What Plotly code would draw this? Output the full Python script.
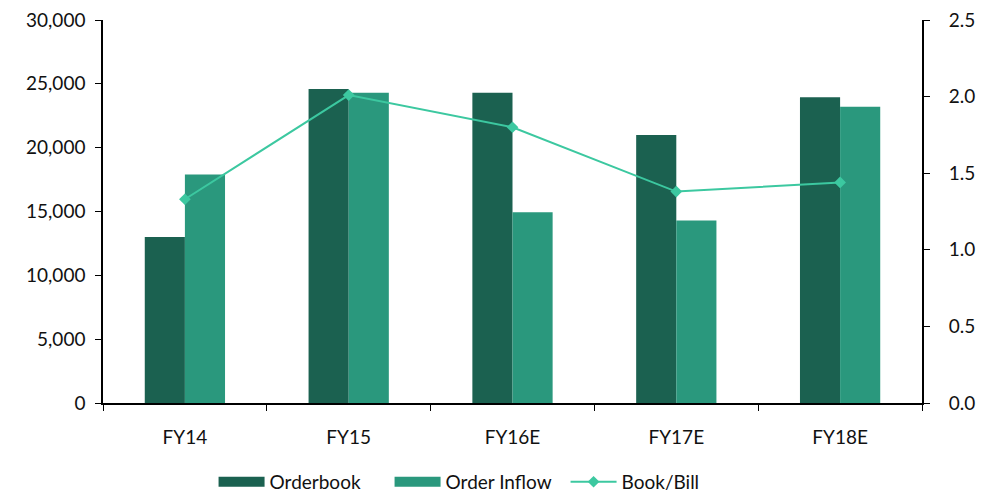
import plotly.graph_objects as go

categories = ["FY14", "FY15", "FY16E", "FY17E", "FY18E"]
orderbook = [13000, 24600, 24300, 21000, 23950]
order_inflow = [17900, 24300, 14950, 14300, 23200]
book_bill = [1.33, 2.01, 1.80, 1.38, 1.44]

left_ticks = [0, 5000, 10000, 15000, 20000, 25000, 30000]
right_ticks = [0.0, 0.5, 1.0, 1.5, 2.0, 2.5]

FONT = "Lato, 'Open Sans', sans-serif"
C_OB = "#1B6150"
C_IN = "#2A987D"
C_BB = "#3CC8A0"

fig = go.Figure()
fig.add_trace(go.Bar(x=categories, y=orderbook, name="Orderbook", showlegend=False,
                     marker=dict(color=C_OB, line=dict(width=0))))
fig.add_trace(go.Bar(x=categories, y=order_inflow, name="Order Inflow", showlegend=False,
                     marker=dict(color=C_IN, line=dict(width=0))))
fig.add_trace(go.Scatter(x=categories, y=book_bill, name="Book/Bill", yaxis="y2",
                         mode="lines+markers", showlegend=False,
                         line=dict(color=C_BB, width=2),
                         marker=dict(symbol="diamond", size=9, color=C_BB)))
# legend entries (wide swatches like the original)
fig.add_trace(go.Scatter(x=[None], y=[None], name="Orderbook", mode="lines",
                         line=dict(color=C_OB, width=17)))
fig.add_trace(go.Scatter(x=[None], y=[None], name="Order Inflow", mode="lines",
                         line=dict(color=C_IN, width=17)))
fig.add_trace(go.Scatter(x=[None], y=[None], name="Book/Bill", mode="lines+markers",
                         line=dict(color=C_BB, width=2),
                         marker=dict(symbol="diamond", size=9, color=C_BB)))
# carrier for the right-hand tick labels (set further out than the ticks)
fig.add_trace(go.Scatter(x=[None], y=[None], yaxis="y3", showlegend=False,
                         hoverinfo="skip"))

fig.update_layout(
    width=992, height=495,
    margin=dict(l=95, r=78, t=12, b=100, autoexpand=False),
    plot_bgcolor="white", paper_bgcolor="white",
    barmode="group", bargap=0.51, bargroupgap=0,
    font=dict(family=FONT, size=19, color="#111111"),
    xaxis=dict(showline=True, linecolor="black", linewidth=1.5,
               ticks="outside", tickson="boundaries", ticklen=6, tickcolor="black",
               ticklabelstandoff=16, showgrid=False),
    yaxis=dict(range=[0, 30000], tickvals=left_ticks, tickformat=",d",
               showline=True, linecolor="black", linewidth=1.5,
               ticks="outside", ticklen=6, tickcolor="black", ticklabelstandoff=6,
               ticklabeloverflow="allow",
               showgrid=False, zeroline=False),
    yaxis2=dict(range=[0, 2.5], tickvals=right_ticks, showticklabels=False,
                overlaying="y", side="right",
                showline=True, linecolor="black", linewidth=1.5,
                ticks="outside", ticklen=6, tickcolor="black",
                showgrid=False, zeroline=False),
    yaxis3=dict(range=[0, 2.5], tickvals=right_ticks, tickformat=".1f",
                overlaying="y", side="right", showline=False,
                ticks="outside", ticklen=22, tickcolor="rgba(0,0,0,0)",
                ticklabeloverflow="allow",
                showgrid=False, zeroline=False),
    legend=dict(orientation="h", x=0.135, xanchor="left", y=-0.206, yanchor="middle",
                font=dict(size=19), itemwidth=46, traceorder="normal",
                entrywidth=115, entrywidthmode="pixels"),
)

fig.write_html("out.html")
